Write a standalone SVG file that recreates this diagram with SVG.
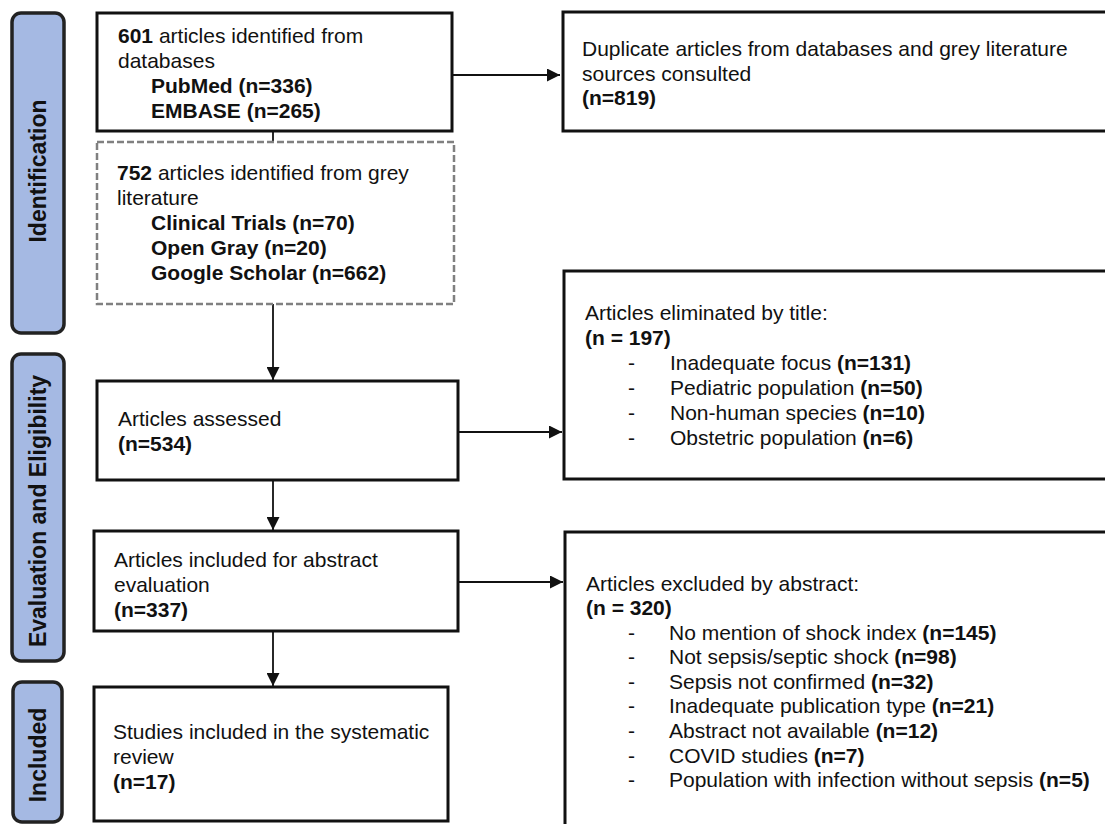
<svg xmlns="http://www.w3.org/2000/svg" width="1105" height="824" viewBox="0 0 1105 824">
<style>
text{font-family:"Liberation Sans",Arial,Helvetica,sans-serif;font-size:21px;fill:#111}
.b{font-weight:bold}
.box{fill:#fff;stroke:#111;stroke-width:3}
.dbox{fill:#fff;stroke:#808080;stroke-width:2.5;stroke-dasharray:7 3}
.bar{fill:#a5b9e3;stroke:#222;stroke-width:3.5}
.bt{font-size:23px;font-weight:bold;text-anchor:middle}
.ln{stroke:#111;stroke-width:1.8;fill:none}
</style>
<defs>
<marker id="ah" markerWidth="13" markerHeight="13" refX="13" refY="6.5" orient="auto" markerUnits="userSpaceOnUse">
<path d="M0,0 L13,6.5 L0,13 Z" fill="#111"/>
</marker>
</defs>
<rect width="1105" height="824" fill="#fff"/>

<g id="bar-identification">
<rect class="bar" x="12" y="13" width="52" height="320" rx="9"/>
<text class="bt" transform="translate(46,171) rotate(-90)">Identification</text>
</g>
<g id="bar-evaluation">
<rect class="bar" x="12" y="354" width="52" height="307" rx="9"/>
<text class="bt" transform="translate(46,511) rotate(-90)">Evaluation and Eligibility</text>
</g>
<g id="bar-included">
<rect class="bar" x="13" y="682" width="49" height="140" rx="9"/>
<text class="bt" transform="translate(46,755) rotate(-90)">Included</text>
</g>

<g id="connectors">
<line class="ln" x1="273" y1="131" x2="273" y2="141"/>
<line class="ln" x1="273" y1="304" x2="273" y2="380" marker-end="url(#ah)"/>
<line class="ln" x1="273" y1="480" x2="273" y2="530" marker-end="url(#ah)"/>
<line class="ln" x1="273" y1="631" x2="273" y2="686" marker-end="url(#ah)"/>
<line class="ln" x1="452" y1="75" x2="560" y2="75" marker-end="url(#ah)"/>
<line class="ln" x1="458" y1="432" x2="562" y2="432" marker-end="url(#ah)"/>
<line class="ln" x1="458" y1="582" x2="563" y2="582" marker-end="url(#ah)"/>
</g>

<g id="databases">
<rect class="box" x="97" y="13" width="355" height="118"/>
<text x="118" y="43"><tspan class="b">601</tspan> articles identified from</text>
<text x="118" y="68">databases</text>
<text x="151" y="93" class="b">PubMed (n=336)</text>
<text x="151" y="118" class="b">EMBASE (n=265)</text>
</g>

<g id="grey-literature">
<rect class="dbox" x="97" y="142" width="357" height="162"/>
<text x="117" y="180"><tspan class="b">752</tspan> articles identified from grey</text>
<text x="117" y="205">literature</text>
<text x="151" y="230" class="b">Clinical Trials (n=70)</text>
<text x="151" y="255" class="b">Open Gray (n=20)</text>
<text x="151" y="280" class="b">Google Scholar (n=662)</text>
</g>

<g id="assessed">
<rect class="box" x="97" y="381" width="361" height="99"/>
<text x="118" y="426">Articles assessed</text>
<text x="118" y="451" class="b">(n=534)</text>
</g>

<g id="abstract-eval">
<rect class="box" x="94" y="531" width="364" height="100"/>
<text x="114" y="567">Articles included for abstract</text>
<text x="114" y="592">evaluation</text>
<text x="114" y="617" class="b">(n=337)</text>
</g>

<g id="studies">
<rect class="box" x="94" y="687" width="354" height="134"/>
<text x="113" y="739">Studies included in the systematic</text>
<text x="113" y="764">review</text>
<text x="113" y="789" class="b">(n=17)</text>
</g>

<g id="duplicates">
<rect class="box" x="563" y="12" width="560" height="119"/>
<text x="582" y="56">Duplicate articles from databases and grey literature</text>
<text x="582" y="81">sources consulted</text>
<text x="582" y="105" class="b">(n=819)</text>
</g>

<g id="title-excluded">
<rect class="box" x="564" y="271" width="560" height="208"/>
<text x="585" y="320">Articles eliminated by title:</text>
<text x="585" y="345" class="b">(n = 197)</text>
<text x="628" y="370">-</text><text x="670" y="370">Inadequate focus <tspan class="b">(n=131)</tspan></text>
<text x="628" y="395">-</text><text x="670" y="395">Pediatric population <tspan class="b">(n=50)</tspan></text>
<text x="628" y="420">-</text><text x="670" y="420">Non-human species <tspan class="b">(n=10)</tspan></text>
<text x="628" y="445">-</text><text x="670" y="445">Obstetric population <tspan class="b">(n=6)</tspan></text>
</g>

<g id="abstract-excluded">
<rect class="box" x="565" y="532" width="560" height="320"/>
<text x="586" y="591">Articles excluded by abstract:</text>
<text x="586" y="615" class="b">(n = 320)</text>
<text x="628" y="640">-</text><text x="669" y="640">No mention of shock index <tspan class="b">(n=145)</tspan></text>
<text x="628" y="664">-</text><text x="669" y="664">Not sepsis/septic shock <tspan class="b">(n=98)</tspan></text>
<text x="628" y="689">-</text><text x="669" y="689">Sepsis not confirmed <tspan class="b">(n=32)</tspan></text>
<text x="628" y="713">-</text><text x="669" y="713">Inadequate publication type <tspan class="b">(n=21)</tspan></text>
<text x="628" y="738">-</text><text x="669" y="738">Abstract not available <tspan class="b">(n=12)</tspan></text>
<text x="628" y="763">-</text><text x="669" y="763">COVID studies <tspan class="b">(n=7)</tspan></text>
<text x="628" y="787">-</text><text x="669" y="787">Population with infection without sepsis <tspan class="b">(n=5)</tspan></text>
</g>
</svg>
